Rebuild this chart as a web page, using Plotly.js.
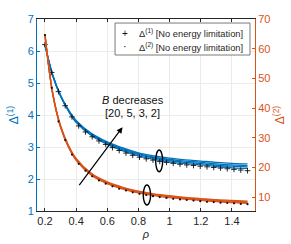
<!DOCTYPE html>
<html><head><meta charset="utf-8">
<script src="https://cdn.plot.ly/plotly-3.0.1.min.js"></script>
<style>html,body{margin:0;padding:0;background:#fff}#c{width:291px;height:244px}</style>
</head><body><div id="c"></div>
<script>
// marker rho grid (31 points) and no-energy-limitation values
var rhoM = [0.2,0.2433,0.2867,0.33,0.3733,0.4167,0.46,0.5033,0.5467,0.59,0.6333,0.6767,0.72,0.7633,0.8067,0.85,0.8933,0.9367,0.98,1.0233,1.0667,1.11,1.1533,1.1967,1.24,1.2833,1.3267,1.37,1.4133,1.4567,1.5];
var d1NoLimit = [6.20,5.33,4.73,4.29,3.94,3.66,3.47,3.32,3.19,3.08,2.98,2.89,2.81,2.74,2.68,2.63,2.59,2.55,2.52,2.49,2.46,2.44,2.42,2.40,2.38,2.36,2.34,2.32,2.30,2.28,2.26];
var d2NoLimit = [64.6,46.8,35.5,29.2,24.3,21.2,18.9,17.0,15.6,14.5,13.6,12.8,12.2,11.6,11.1,10.7,10.3,10.0,9.7,9.4,9.2,9.0,8.8,8.6,8.4,8.3,8.1,8.0,7.9,7.7,7.6];
// line rho grid for B curves
var rhoL = [0.2,0.25,0.3,0.35,0.4,0.5,0.6,0.7,0.8,0.9,1.0,1.1,1.2,1.3,1.4,1.5];
var Bvals = [20,5,3,2];
var d1B20 = [6.20,5.22,4.59,4.13,3.77,3.35,3.08,2.88,2.72,2.61,2.53,2.48,2.44,2.39,2.35,2.33];
var d1B5  = [6.20,5.23,4.60,4.14,3.79,3.37,3.11,2.91,2.76,2.65,2.57,2.52,2.48,2.43,2.40,2.38];
var d1B3  = [6.21,5.24,4.61,4.16,3.81,3.39,3.13,2.94,2.79,2.68,2.61,2.56,2.52,2.47,2.44,2.42];
var d1B2  = [6.21,5.25,4.62,4.17,3.83,3.42,3.16,2.97,2.82,2.72,2.65,2.60,2.56,2.52,2.49,2.47];
var d2B20 = [64.6,44.6,33.5,26.9,22.4,17.3,14.5,12.7,11.4,10.5,9.8,9.3,8.85,8.45,8.15,7.9];
var d2B5  = [64.7,44.7,33.7,27.1,22.6,17.5,14.7,12.9,11.6,10.7,10.05,9.5,9.05,8.7,8.4,8.15];
var d2B3  = [64.8,44.9,33.9,27.3,22.8,17.7,14.9,13.1,11.8,10.9,10.25,9.7,9.3,8.9,8.6,8.4];
var d2B2  = [64.9,45.1,34.1,27.5,23.0,17.9,15.1,13.3,12.0,11.1,10.45,9.9,9.5,9.1,8.85,8.65];
var xTicks = [0.2,0.4,0.6,0.8,1,1.2,1.4];
var xTickText = ['0.2','0.4','0.6','0.8','1','1.2','1.4'];
var y1Ticks = [1,2,3,4,5,6,7];
var y2Ticks = [10,20,30,40,50,60,70];
var legendLabels = ['Δ<sup>(1)</sup> [No energy limitation]','Δ<sup>(2)</sup> [No energy limitation]'];

var BLUE = '#0072BD', ORANGE = '#D95319';
var traces = [];
[d1B20,d1B5,d1B3,d1B2].forEach(function(v,i){
  traces.push({x:rhoL,y:v,type:'scatter',mode:'lines',line:{color:BLUE,width:1.3,shape:'spline'},yaxis:'y',name:'B='+Bvals[i]});
});
[d2B20,d2B5,d2B3,d2B2].forEach(function(v,i){
  traces.push({x:rhoL,y:v,type:'scatter',mode:'lines',line:{color:ORANGE,width:1.3,shape:'spline'},yaxis:'y2',name:'B='+Bvals[i]});
});
traces.push({x:rhoM,y:d1NoLimit,type:'scatter',mode:'markers',yaxis:'y',
  marker:{symbol:'cross-thin',size:4,color:'#111',line:{color:'#111',width:0.9}},
  name:legendLabels[0]});
traces.push({x:rhoM,y:d2NoLimit,type:'scatter',mode:'markers',yaxis:'y2',
  marker:{symbol:'circle',size:2.2,color:'#111'},
  name:legendLabels[1]});

var layout = {
  width:291,height:244,
  margin:{l:37,r:36,t:19,b:33},
  paper_bgcolor:'#fff',plot_bgcolor:'#fff',
  font:{family:'Liberation Sans, Arial, sans-serif',size:11,color:'#262626'},
  showlegend:false,
  xaxis:{range:[0.149,1.548],tickvals:xTicks,ticktext:xTickText,ticks:'inside',ticklen:3,tickcolor:'#262626',
    showline:true,linecolor:'#262626',linewidth:1,mirror:'ticks',showgrid:true,gridcolor:'#ebebeb',zeroline:false,
    tickfont:{size:11,color:'#262626'},
    title:{text:'<i>ρ</i>',font:{size:11,color:'#262626'},standoff:4}},
  yaxis:{range:[1,7],tickvals:y1Ticks,ticks:'inside',ticklen:3,tickcolor:BLUE,
    showline:true,linecolor:BLUE,linewidth:1,showgrid:true,gridcolor:'#ebebeb',zeroline:false,
    tickfont:{size:11,color:BLUE},
    title:{text:'Δ<sup>(1)</sup>',font:{size:12,color:BLUE},standoff:6}},
  yaxis2:{range:[5.3,70],tickvals:y2Ticks,overlaying:'y',side:'right',ticks:'inside',ticklen:3,tickcolor:ORANGE,
    showline:true,linecolor:ORANGE,linewidth:1,showgrid:false,zeroline:false,
    tickfont:{size:11,color:ORANGE},
    title:{text:'Δ<sup>(2)</sup>',font:{size:12,color:ORANGE},standoff:6}},
  shapes:[
    {type:'circle',xref:'x',yref:'y',x0:0.9105,x1:0.9555,y0:2.228,y1:2.906,line:{color:'#000',width:1.4}},
    {type:'circle',xref:'x',yref:'y',x0:0.831,x1:0.878,y0:1.1875,y1:1.8125,line:{color:'#000',width:1.4}},
    {type:'rect',xref:'paper',yref:'paper',x0:0.358,x1:0.977,y0:0.8125,y1:0.979,fillcolor:'#fff',line:{color:'#7a7a7a',width:1},layer:'above'}
  ],
  annotations:[
    {x:0.698,y:3.62,ax:0.413,ay:1.76,xref:'x',yref:'y',axref:'x',ayref:'y',text:'',showarrow:true,
      arrowhead:2,arrowsize:1,arrowwidth:1.2,arrowcolor:'#000'},
    {x:0.553,y:4.47,xref:'x',yref:'y',xanchor:'left',yanchor:'middle',showarrow:false,
      text:'<i>B</i> decreases',font:{size:11,color:'#111'}},
    {x:0.572,y:4.06,xref:'x',yref:'y',xanchor:'left',yanchor:'middle',showarrow:false,
      text:'[20, 5, 3, 2]',font:{size:11,color:'#111'}},
    {x:0.404,y:0.927,xref:'paper',yref:'paper',xanchor:'center',yanchor:'middle',showarrow:false,
      text:'+',font:{size:10,color:'#111'}},
    {x:0.404,y:0.858,xref:'paper',yref:'paper',xanchor:'center',yanchor:'middle',showarrow:false,
      text:'·',font:{size:11,color:'#111'}},
    {x:0.459,y:0.927,xref:'paper',yref:'paper',xanchor:'left',yanchor:'middle',showarrow:false,
      text:legendLabels[0],font:{size:9.3,color:'#262626'}},
    {x:0.459,y:0.854,xref:'paper',yref:'paper',xanchor:'left',yanchor:'middle',showarrow:false,
      text:legendLabels[1],font:{size:9.3,color:'#262626'}}
  ]
};
Plotly.newPlot('c',traces,layout,{staticPlot:true,displayModeBar:false});
</script></body></html>
